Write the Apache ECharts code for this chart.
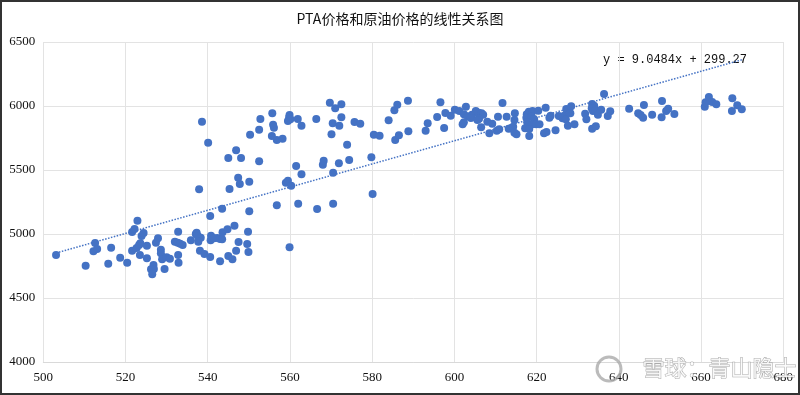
<!DOCTYPE html>
<html><head><meta charset="utf-8">
<script src="https://cdn.jsdelivr.net/npm/echarts@6/dist/echarts.min.js"></script>
<style>html,body{margin:0;padding:0;background:#fff}#c{width:800px;height:395px}</style>
</head><body><div id="c"></div>
<script>
const titleText = 'PTA价格和原油价格的线性关系图';
const equationText = 'y = 9.0484x + 299.27';
const slope = 9.0484, intercept = 299.27;
const xTicks = [500,520,540,560,580,600,620,640,660,680];
const yTicks = [4000,4500,5000,5500,6000,6500];
// 原油价格 (x)
const oilPrice = [
503.1,510.3,512.6,512.2,513.1,516.5,515.8,518.7,520.4,521.6,522.2,522.9,523.9,524.4,521.6,522.7,523.3,523.6,523.5,525.2,
525.2,526.8,526.2,526.9,526.5,527.9,527.4,528.6,528.6,528.9,529.5,530.0,530.8,532.8,532.0,532.7,533.3,533.9,532.8,532.9,
535.9,537.3,537.1,537.6,538.3,537.7,538.1,539.2,538.6,540.1,537.9,540.6,540.8,540.7,540.6,542.3,543.0,541.5,543.0,543.5,
543.5,543.6,544.8,546.5,545.0,546.0,546.9,547.5,549.8,549.6,549.9,550.1,545.3,547.4,547.8,550.1,545.0,548.1,546.9,552.5,
550.3,552.5,552.8,555.7,555.6,556.8,558.2,555.9,556.1,556.8,559.9,559.8,560.1,559.5,561.9,562.8,559.0,559.5,560.3,561.5,
562.8,562.0,559.9,566.4,566.6,568.0,568.2,570.5,570.5,569.7,571.0,572.5,570.4,572.0,572.5,570.1,573.9,571.9,574.4,575.7,
577.1,579.8,580.1,580.4,581.8,584.0,585.4,586.1,585.6,586.5,588.7,588.8,593.0,593.5,595.8,596.6,597.5,597.8,599.1,600.1,
601.2,602.8,602.3,603.2,604.3,605.2,605.9,606.6,607.0,604.0,606.0,605.6,602.3,602.0,606.5,608.0,609.2,608.5,610.3,610.9,
611.7,610.6,612.7,613.2,613.7,614.7,614.6,614.3,614.6,615.1,617.6,618.1,619.0,620.4,617.5,618.8,619.4,617.7,619.0,617.2,
618.2,619.9,620.7,618.2,621.8,622.4,622.2,623.4,623.1,624.6,625.4,626.7,626.3,627.1,627.2,628.4,628.2,627.6,629.2,631.8,
632.1,633.5,634.4,633.5,634.0,633.4,633.7,634.3,634.9,635.7,636.4,637.9,637.3,642.5,644.7,645.3,645.9,646.1,648.1,650.5,
650.4,651.5,652.0,653.5,660.9,661.1,661.9,662.7,663.7,667.6,667.5,668.8,669.9
];
// PTA价格 (y)
const ptaPrice = [
4836,4752,4930,4865,4883,4893,4768,4815,4776,5016,5039,5104,4984,5008,4870,4891,4914,4927,4836,4909,
4810,4758,4724,4727,4685,4966,4932,4877,4849,4802,4727,4818,4807,5018,4940,4932,4924,4914,4836,4776,
4951,5010,5000,4984,4971,4940,4870,4844,5877,5713,5349,5141,4987,4951,4820,4969,4787,4966,4961,4959,
5198,5013,5037,5065,4828,4802,4870,4938,5018,4922,4859,5177,5352,5440,5391,5409,5594,5594,5654,5568,
5776,5815,5898,5943,5766,5734,5745,5854,5830,5224,5930,5912,5896,5883,5898,5846,5401,5416,5377,5531,
5466,5237,4896,5898,5195,5541,5573,5479,5237,6026,5982,6013,5865,5846,5912,5779,5698,5552,5578,5875,
5862,5599,5312,5776,5768,5888,5966,6010,5734,5771,6041,5802,5807,5865,5914,6029,5828,5945,5924,5971,
5961,5995,5935,5920,5932,5961,5948,5943,5932,5906,5901,5891,5873,5857,5834,5877,5862,5787,5807,5818,
6023,5916,5916,5823,5826,5943,5891,5838,5791,5779,5935,5955,5961,5963,5909,5920,5896,5873,5857,5826,
5820,5857,5857,5766,5787,5797,5987,5924,5909,5810,5922,5924,5904,5896,5977,5998,5943,5846,5857,5940,
5896,5823,5841,6016,6002,5982,5961,5966,5932,5971,6094,5959,5922,5979,5943,5930,5909,6008,5932,6039,
5912,5961,5979,5938,5995,6029,6070,6031,6013,6060,5961,6005,5974
];

const points = oilPrice.map((x,i)=>[x, ptaPrice[i]]);
const xmin = Math.min(...oilPrice), xmax = Math.max(...oilPrice);
const trend = [[xmin, slope*xmin+intercept],[xmax, slope*xmax+intercept]];
const blue = '#4472C4';
const chart = echarts.init(document.getElementById('c'));
chart.setOption({
  backgroundColor:'#fff',
  animation:false,
  title:{text:titleText,left:'center',top:7,textStyle:{fontFamily:'Noto Sans CJK SC',fontSize:14,fontWeight:'normal',color:'#111'}},
  grid:{left:43.3,right:16.7,top:42,bottom:33},
  xAxis:{type:'value',min:xTicks[0],max:xTicks[xTicks.length-1],interval:20,
    axisLine:{lineStyle:{color:'#d9d9d9'}},axisTick:{show:false},
    axisLabel:{color:'#111',fontFamily:'Liberation Serif',fontSize:13,margin:9,formatter:v=>String(v)},
    splitLine:{show:true,lineStyle:{color:'#e3e3e3'}}},
  yAxis:{type:'value',min:yTicks[0],max:yTicks[yTicks.length-1],interval:500,
    axisLine:{show:false},axisTick:{show:false},
    axisLabel:{color:'#111',fontFamily:'Liberation Serif',fontSize:13,margin:8,formatter:v=>String(v)},
    splitLine:{show:true,lineStyle:{color:'#e3e3e3'}}},
  series:[
    {type:'line',data:trend,symbol:'none',silent:true,z:1,
     lineStyle:{color:blue,width:1.5,type:[1.5,1.5]}},
    {type:'scatter',data:points,symbolSize:8,z:2,itemStyle:{color:blue,opacity:1}}
  ],
  graphic:[
    {type:'text',left:603,top:54,style:{text:equationText,font:'12px "Liberation Mono"',fill:'#111'}},
    {type:'circle',shape:{cx:609,cy:369,r:12},style:{fill:'none',stroke:'rgba(170,170,170,0.8)',lineWidth:3},z:10},
    {type:'text',left:642,top:356,style:{text:'雪球：青山隐士',font:'22px "Noto Sans CJK SC"',fill:'rgba(255,255,255,0.85)',stroke:'rgba(150,150,150,0.8)',lineWidth:1},z:10},
    {type:'rect',shape:{x:1,y:1,width:798,height:393},style:{fill:'none',stroke:'#333',lineWidth:2},z:20}
  ]
});
</script></body></html>
